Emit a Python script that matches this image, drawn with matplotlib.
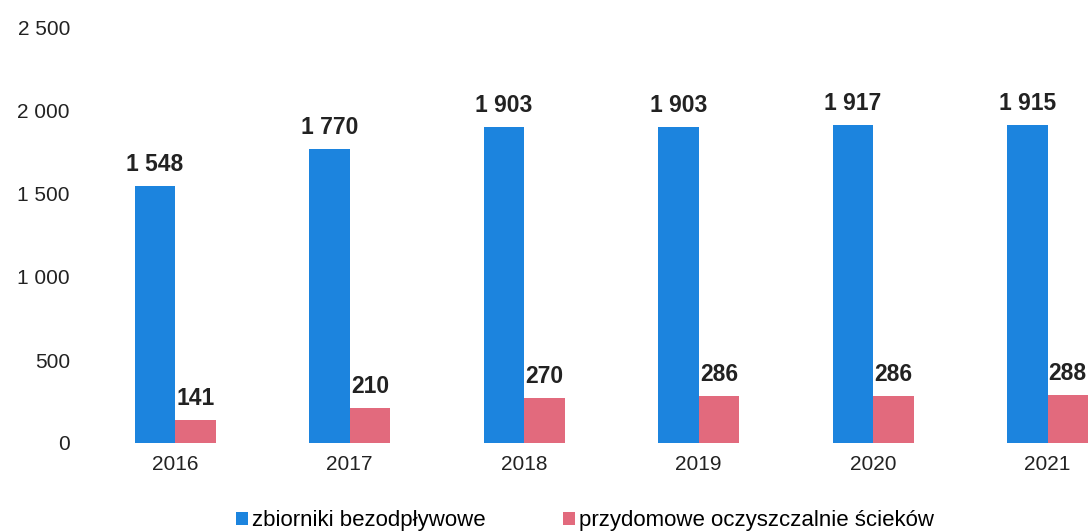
import matplotlib
matplotlib.use("Agg")
import matplotlib.pyplot as plt
import numpy as np

years = ["2016", "2017", "2018", "2019", "2020", "2021"]
zbiorniki = [1548, 1770, 1903, 1903, 1917, 1915]
oczyszczalnie = [141, 210, 270, 286, 286, 288]
series_names = ["zbiorniki bezodpływowe", "przydomowe oczyszczalnie ścieków"]
yticks = [0, 500, 1000, 1500, 2000, 2500]

def fmt(v):
    return f"{v:,}".replace(",", " ")

plt.rcParams['font.family'] = ['Liberation Sans', 'DejaVu Sans']

fig = plt.figure(figsize=(10.89, 5.31), dpi=100)
ax = fig.add_axes([88/1089, 88/531, 1 - 88/1089, (443-28)/531])

x = np.arange(len(years))
w = 0.232
blue = "#1c84de"
pink = "#e26a7d"
b1 = ax.bar(x - w/2, zbiorniki, w, color=blue, label=series_names[0])
b2 = ax.bar(x + w/2, oczyszczalnie, w, color=pink, label=series_names[1])

for xi, v in zip(x, zbiorniki):
    ax.text(xi - w/2, v + 60, fmt(v), ha='center', va='bottom', fontsize=16.5, fontweight='bold', color='#222222')
for xi, v in zip(x, oczyszczalnie):
    ax.text(xi + w/2, v + 60, fmt(v), ha='center', va='bottom', fontsize=16.5, fontweight='bold', color='#222222')

ax.set_xlim(-0.5, (1089-175)/174.5)
ax.set_ylim(0, 2500)
ax.set_yticks(yticks)
ax.set_yticklabels([fmt(v) for v in yticks], fontsize=15, color='#222222')
ax.set_xticks(x)
ax.set_xticklabels(years, fontsize=15, color='#222222')
ax.tick_params(axis='both', length=0)
ax.tick_params(axis='y', pad=13)
ax.tick_params(axis='x', pad=9)
for s in ax.spines.values():
    s.set_visible(False)

fig.legend(handles=[b1, b2], labels=series_names, loc='lower center',
           bbox_to_anchor=(585/1089, -0.038), ncol=2, frameon=False, fontsize=16,
           handlelength=0.55, handleheight=0.55, handletextpad=0.15, columnspacing=3.5)

fig.savefig("out.png", dpi=100)
